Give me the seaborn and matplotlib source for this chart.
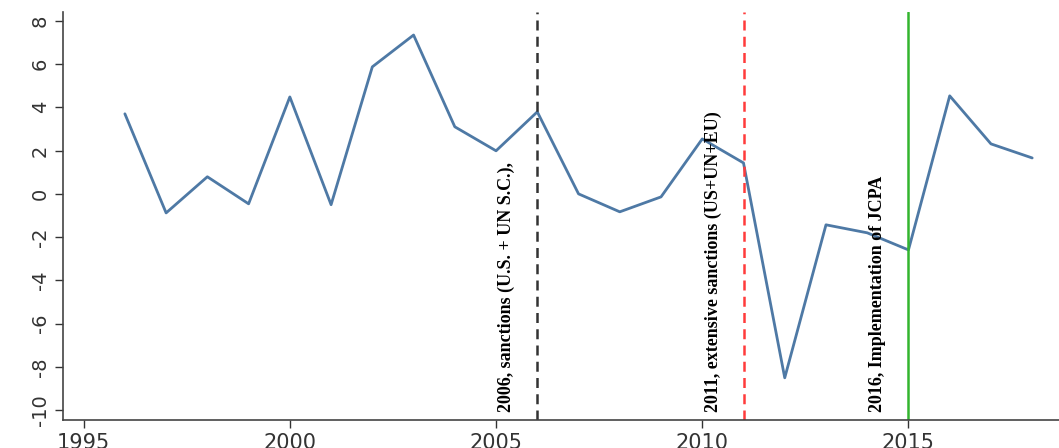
import matplotlib
matplotlib.use("Agg")
import matplotlib.pyplot as plt
import seaborn as sns
import pandas as pd

years = list(range(1996, 2019))
values = [3.70, -0.88, 0.79, -0.46, 4.48, -0.50, 5.87, 7.34, 3.10, 1.99, 3.79,
          0.00, -0.83, -0.14, 2.54, 1.43, -8.50, -1.43, -1.80, -2.59, 4.53, 2.31, 1.66]

event_years = [2006, 2011, 2015]
event_labels = ["2006, sanctions (U.S. + UN S.C.),",
                "2011, extensive sanctions (US+UN+EU)",
                "2016, Implementation of JCPA"]
event_colors = ["#333333", "#ff3b3b", "#33b52e"]
event_styles = ["--", "--", "-"]

x_ticks = [1995, 2000, 2005, 2010, 2015]
y_ticks = [-10, -8, -6, -4, -2, 0, 2, 4, 6, 8]

df = pd.DataFrame({"year": years, "value": values})

sns.set_style("ticks")
plt.rcParams["axes.unicode_minus"] = False
fig = plt.figure(figsize=(10.59, 4.48), dpi=100)
ax = fig.add_axes([0.0595, 0.0625, 0.9405, 0.9105])

sns.lineplot(data=df, x="year", y="value", ax=ax, color="#4e79a5", linewidth=2.0)

for yr, lab, col, ls in zip(event_years, event_labels, event_colors, event_styles):
    ax.axvline(yr, color=col, linestyle=ls, linewidth=1.8,
               dashes=(4, 2.5) if ls == "--" else (None, None))
    ax.text(yr - 0.74, -10.1, lab, rotation=90, ha="center", va="bottom",
            family="Liberation Serif", fontweight="bold", fontsize=13,
            color="black")

ax.set_xlim(1994.5, 2018.65)
ax.set_ylim(-10.45, 8.4)
ax.set_xticks(x_ticks)
ax.set_yticks(y_ticks)
ax.set_xlabel("")
ax.set_ylabel("")
ax.tick_params(axis="both", labelsize=14, colors="#333333", length=6, width=1)
ax.tick_params(axis="x", labelsize=15, pad=3)
for lbl in ax.get_yticklabels():
    lbl.set_rotation(90)
    lbl.set_va("center")
sns.despine(ax=ax)
for s in ["left", "bottom"]:
    ax.spines[s].set_color("#444444")
    ax.spines[s].set_linewidth(1.2)

fig.savefig("out.png", dpi=100)
